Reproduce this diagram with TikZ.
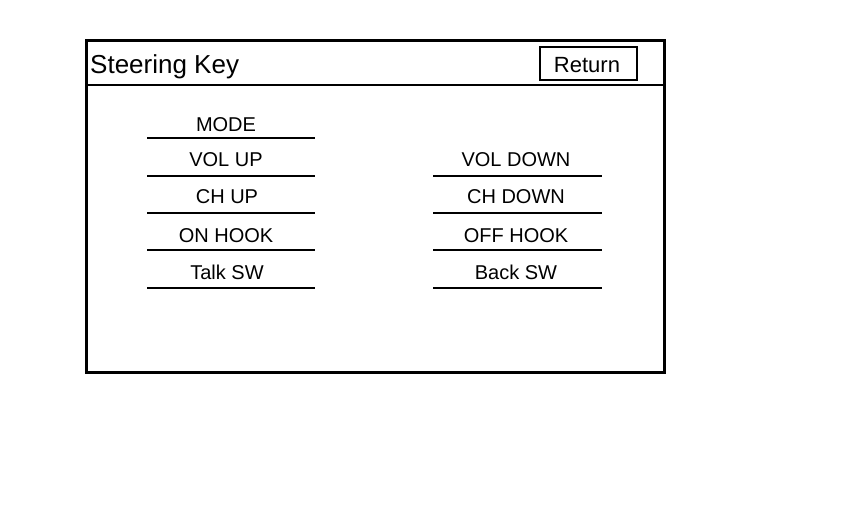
\documentclass[tikz,border=0pt]{standalone}
\usepackage{fontspec}
\setmainfont{Liberation Sans}
\usepackage{tikz}
\usetikzlibrary{positioning}

\tikzset{
	keylabel/.style={anchor=base,inner sep=0pt,font=\fontsize{20}{24}\selectfont},
	keyline/.style={line width=1.5pt},
}

\begin{document}
\begin{tikzpicture}[x=1pt,y=-1pt]
		\useasboundingbox (0,0) rectangle (860,524);
		% frame
		\draw[line width=3pt] (86,41) rectangle (664,372);
		\coordinate (H1) at (86,85);
		\coordinate (H2) at (664,85);
		\draw[line width=1.3pt] (H1) -- (H2);
		\node[anchor=base west,inner sep=0pt,font=\fontsize{26}{30}\selectfont] (title) at (90,74) {Steering Key};
		\draw[line width=1.3pt] (540,47) rectangle (637,80);
		\node[anchor=base,inner sep=0pt,font=\fontsize{22}{26}\selectfont] (ret) at (587,73) {Return};
		%
		\node[keylabel] (mode) at (226,132) {MODE};
		\node[keylabel] (volup) at (226,167) {VOL UP};
		\node[keylabel] (chup) at (227,204) {CH UP};
		\node[keylabel] (onhook) at (226,242) {ON HOOK};
		\node[keylabel] (talk) at (227,279) {Talk SW};
		\node[keylabel] (voldown) at (516,167) {VOL DOWN};
		\node[keylabel] (chdown) at (516,204) {CH DOWN};
		\node[keylabel] (offhook) at (516,242) {OFF HOOK};
		\node[keylabel] (back) at (516,279) {Back SW};
		%
		\coordinate (A) at (147,138);
		\coordinate (A') at (147,176);
		\coordinate (A'') at (147,213);
		\coordinate (A''') at (147,250);
		\coordinate (A'''') at (147,288);
		\coordinate (B) at (315,138);
		\coordinate (B') at (315,176);
		\coordinate (B'') at (315,213);
		\coordinate (B''') at (315,250);
		\coordinate (B'''') at (315,288);
		\coordinate (C') at (433,176);
		\coordinate (C'') at (433,213);
		\coordinate (C''') at (433,250);
		\coordinate (C'''') at (433,288);
		\coordinate (D') at (602,176);
		\coordinate (D'') at (602,213);
		\coordinate (D''') at (602,250);
		\coordinate (D'''') at (602,288);
		%
		\path[keyline]
		% left column
		(A) edge (B)
		(A') edge (B')
		(A'') edge (B'')
		(A''') edge (B''')
		(A'''') edge (B'''')
		% right column
		(C') edge (D')
		(C'') edge (D'')
		(C''') edge (D''')
		(C'''') edge (D'''');
	\end{tikzpicture}
\end{document}
